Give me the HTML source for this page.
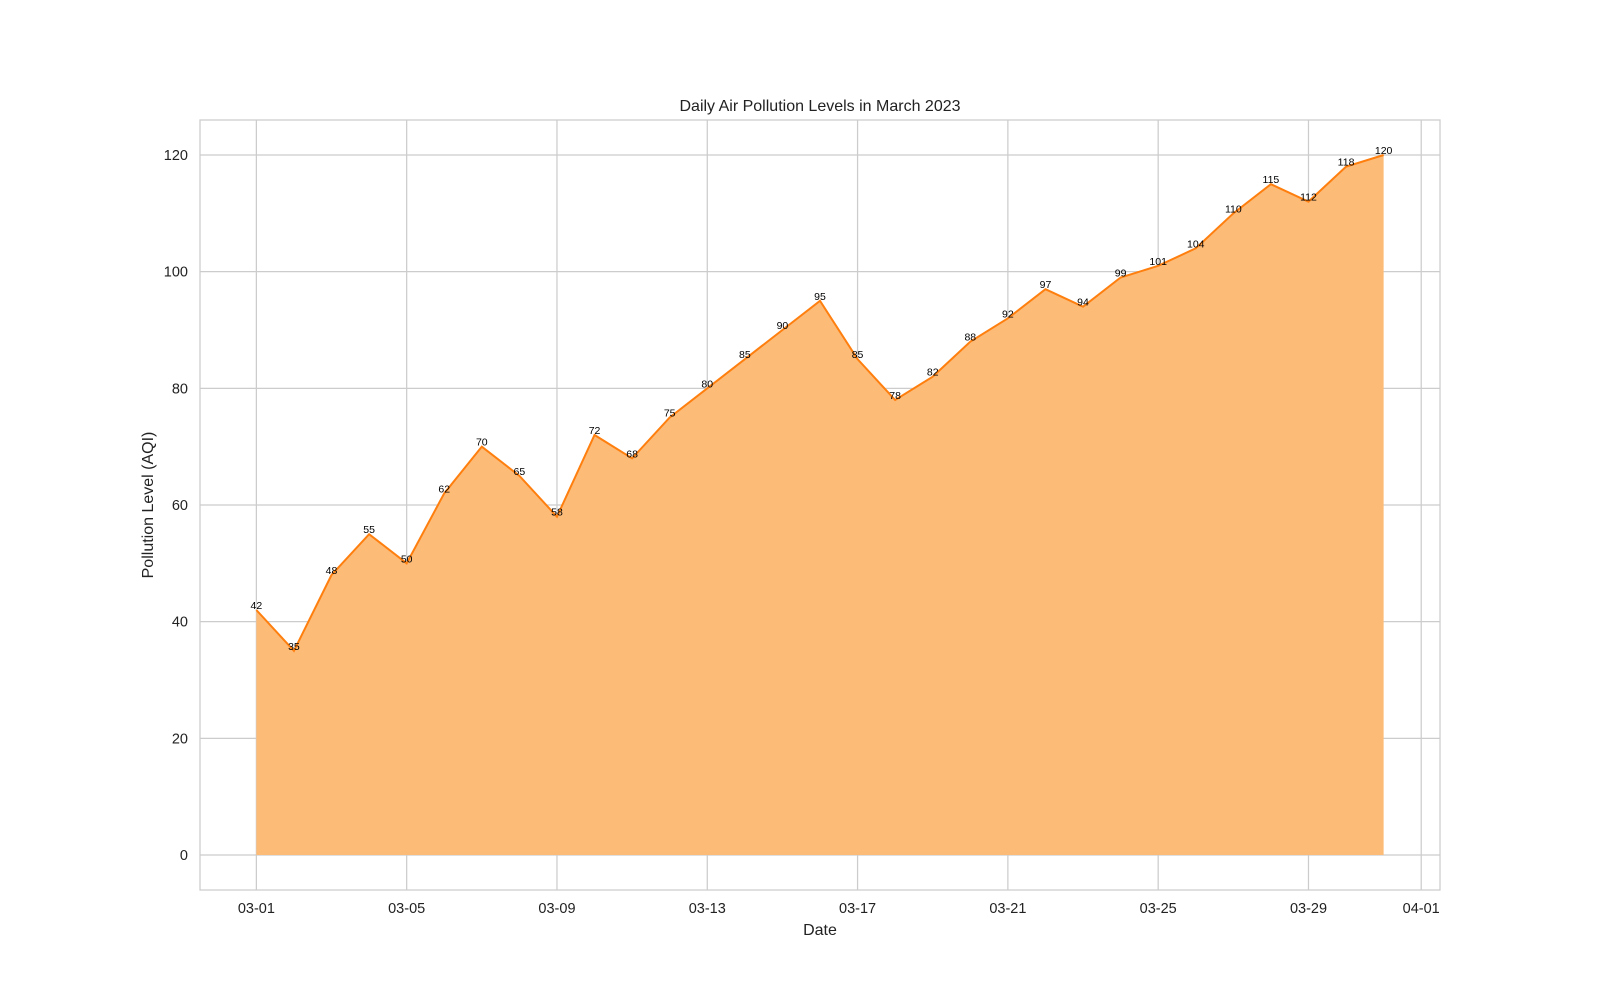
<!DOCTYPE html>
<html><head><meta charset="utf-8"><style>
body{margin:0;background:#fff;}
svg text{font-family:"Liberation Sans",Arial,sans-serif;}
</style></head><body>
<svg id="chart" width="1600" height="1000" xmlns="http://www.w3.org/2000/svg">
<rect width="1600" height="1000" fill="#fff"/>
<g id="grid"></g>
<g id="area"></g>
<g id="labels"></g>
<g id="ticks"></g>
<rect x="200" y="120" width="1240" height="770" fill="none" stroke="#cccccc" stroke-width="1.25"/>
<text x="820" y="111" text-anchor="middle" font-size="16" fill="#222">Daily Air Pollution Levels in March 2023</text>
<text x="820" y="935" text-anchor="middle" font-size="16" fill="#222">Date</text>
<text transform="translate(153,505) rotate(-90)" text-anchor="middle" font-size="16" fill="#222">Pollution Level (AQI)</text>
</svg>
<script>
const values = [42,35,48,55,50,62,70,65,58,72,68,75,80,85,90,95,85,78,82,88,92,97,94,99,101,104,110,115,112,118,120];
const yTicks = [0,20,40,60,80,100,120];
const xTickDays = [0,4,8,12,16,20,24,28,31];
const xTickLabels = ["03-01","03-05","03-09","03-13","03-17","03-21","03-25","03-29","04-01"];

const NS="http://www.w3.org/2000/svg";
function x(d){return 200+(d+1.5)*(1240/33);}
function y(v){return 890-(v+6)*(770/132);}
function mk(tag,attrs,parent,text){const e=document.createElementNS(NS,tag);for(const k in attrs)e.setAttribute(k,attrs[k]);if(text!==undefined)e.textContent=text;parent.appendChild(e);return e;}
const grid=document.getElementById('grid'),ticks=document.getElementById('ticks'),area=document.getElementById('area'),labels=document.getElementById('labels');
yTicks.forEach(v=>{
  const l=mk('line',{x1:200,x2:1440,y1:y(v),y2:y(v),stroke:'#cccccc','stroke-width':1.25},grid);
  
  
  const t=mk('text',{x:188,y:y(v)+5,'text-anchor':'end','font-size':14.5,fill:'#222'},ticks,String(v));
  
  
});
xTickDays.forEach((d,i)=>{
  const l=mk('line',{x1:x(d),x2:x(d),y1:120,y2:890,stroke:'#cccccc','stroke-width':1.25},grid);
  
  
  const t=mk('text',{x:x(d),y:913,'text-anchor':'middle','font-size':14.5,fill:'#222'},ticks,xTickLabels[i]);
  
  
});
let pts=values.map((v,i)=>x(i)+','+y(v));
const poly=mk('polygon',{points:x(0)+','+y(0)+' '+pts.join(' ')+' '+x(values.length-1)+','+y(0),fill:'#fdbb78'},area);


const line=mk('polyline',{points:pts.join(' '),fill:'none',stroke:'#ff7f0e','stroke-width':2},area);


values.forEach((v,i)=>{
  const t=mk('text',{x:x(i),y:y(v)-1,'text-anchor':'middle','font-size':10.5,fill:'#000'},labels,String(v));
  
  
});
</script>
</body></html>
